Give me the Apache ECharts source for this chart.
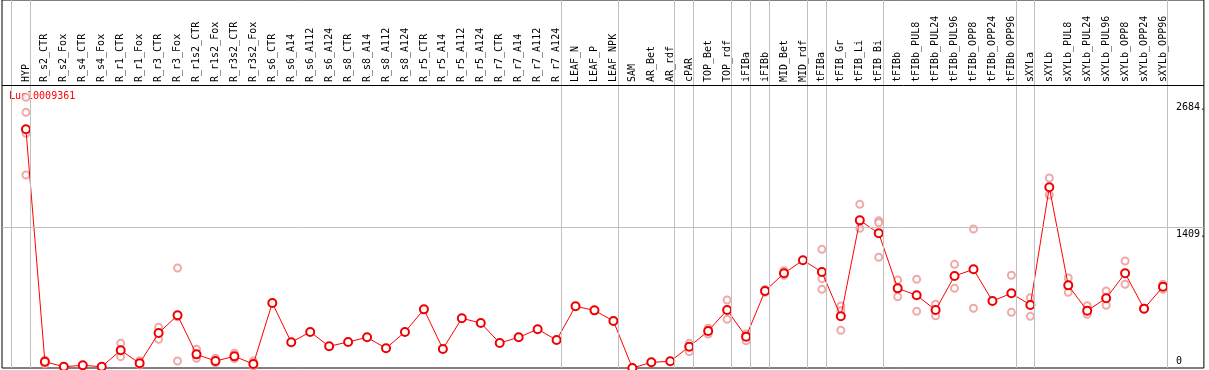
<!DOCTYPE html>
<html>
<head>
<meta charset="utf-8">
<script src="https://cdn.jsdelivr.net/npm/echarts@6/dist/echarts.min.js"></script>
<style>
html,body{margin:0;padding:0;background:#fff}
#chart{width:1209px;height:370px}
</style>
</head>
<body>
<div id="chart"></div>
<script>
let categories = ["HYP","R_s2_CTR","R_s2_Fox","R_s4_CTR","R_s4_Fox","R_r1_CTR","R_r1_Fox","R_r3_CTR","R_r3_Fox",
	"R_r1s2_CTR","R_r1s2_Fox","R_r3s2_CTR","R_r3s2_Fox","R_s6_CTR","R_s6_A14","R_s6_A112","R_s6_A124",
	"R_s8_CTR","R_s8_A14","R_s8_A112","R_s8_A124","R_r5_CTR","R_r5_A14","R_r5_A112","R_r5_A124",
	"R_r7_CTR","R_r7_A14","R_r7_A112","R_r7_A124","LEAF_N","LEAF_P","LEAF_NPK","SAM","AR_Bet","AR_rdf",
	"cPAR","TOP_Bet","TOP_rdf","iFIBa","iFIBb","MID_Bet","MID_rdf","tFIBa","tFIB_Gr","tFIB_Li","tFIB_Bi",
	"tFIBb","tFIBb_PUL8","tFIBb_PUL24","tFIBb_PUL96","tFIBb_OPP8","tFIBb_OPP24","tFIBb_OPP96",
	"sXYLa","sXYLb","sXYLb_PUL8","sXYLb_PUL24","sXYLb_PUL96","sXYLb_OPP8","sXYLb_OPP24","sXYLb_OPP96"];

// mean expression per sample
let meanValues = [2397,63,13,27,13,178,47,351,529,137,70,117,40,653,258,362,218,
	261,308,198,362,589,191,499,452,251,308,389,281,620,579,472,0,57,67,
	214,372,582,315,773,951,1082,964,519,1483,1353,
	800,730,582,924,991,673,750,633,1815,830,576,700,951,596,817];

// single replicates: [sample index, value]
let replicates = [
	[0,2719],[0,2568],[0,2357],[0,1938],[1,80],[1,40],[5,248],[5,114],[6,74],[6,30],
	[7,409],[7,288],[8,1004],[8,70],[8,513],[9,188],[9,97],[10,97],[10,53],[11,148],[11,94],
	[12,70],[12,20],[35,248],[35,164],[36,399],[36,341],[37,683],[37,489],[38,341],[38,274],
	[39,790],[39,760],[40,977],[40,930],[42,1192],[42,897],[42,790],[43,623],[43,576],[43,379],
	[44,1644],[44,1403],[45,1479],[45,1459],[45,1112],[46,884],[46,716],[47,891],[47,569],
	[48,640],[48,525],[49,1041],[49,800],[50,1396],[50,600],[52,931],[52,559],[53,706],[53,519],
	[54,1908],[54,1737],[55,904],[55,760],[56,626],[56,539],[57,773],[57,630],[58,1075],[58,841],
	[59,600],[59,590],[60,841],[60,790]
];

// last sample of each group (gray separators)
let groupEnds = [-1,0,28,31,34,35,37,38,39,41,42,45,52,53,60];
let yLabelsTop = [1409,2684];
let yLabelsBottom = [0];

let chart = echarts.init(document.getElementById("chart"));
let font = "DejaVu Sans Mono";
let idx = categories.map((c,i)=>i);
let yMax = 3696;
let headerLine = yMax*(368-85)/368; // value at the header separator

let opt = {
	animation:false,
	backgroundColor:"#fff",
	title:{
		text:"Lus10009361",
		left:9,
		top:91,
		padding:0,
		z:0,
		textStyle:{color:"#ff0000",fontSize:10,fontWeight:"normal",fontFamily:font}
	},
	grid:{
		left:2,right:2,top:0,bottom:2,
		show:true,
		borderColor:"#000",
		borderWidth:1,
		backgroundColor:"#fff"
	},
	xAxis:{
		type:"value",
		position:"top",
		offset:-85,
		min:-24/19,
		max:-24/19+1205/19,
		splitLine:{show:false},
		axisTick:{show:false},
		axisLine:{show:false},
		axisLabel:{
			customValues:idx,
			rotate:90,
			margin:3,
			color:"#000",
			fontSize:10,
			fontFamily:font,
			formatter:v=>categories[Math.round(v)] || ""
		}
	},
	yAxis:[
		{
			type:"value",
			position:"right",
			min:0,max:yMax,
			splitLine:{show:false},
			axisTick:{show:false},
			axisLine:{show:false},
			axisLabel:{
				customValues:yLabelsTop,
				inside:true,
				margin:28,
				align:"left",
				verticalAlign:"top",
				padding:[2,0,0,0],
				color:"#000",
				fontSize:10,
				fontFamily:font,
				formatter:v=>v+"."
			}
		},
		{
			type:"value",
			position:"right",
			min:0,max:yMax,
			splitLine:{show:false},
			axisTick:{show:false},
			axisLine:{show:false},
			axisLabel:{
				customValues:yLabelsBottom,
				inside:true,
				margin:28,
				align:"left",
				verticalAlign:"bottom",
				padding:[0,0,2,0],
				color:"#000",
				fontSize:10,
				fontFamily:font,
				formatter:v=>String(v)
			}
		}
	],
	series:[
		{
			type:"scatter",
			z:1,
			symbol:"emptyCircle",
			symbolSize:7,
			itemStyle:{color:"#ec9494",borderWidth:1.2},
			data:replicates,
			markLine:{
				silent:true,
				symbol:["none","none"],
				label:{show:false},
				lineStyle:{color:"#c0c0c0",width:1,type:"solid"},
				data:groupEnds.map(g=>({xAxis:g+0.23})).concat([
					{yAxis:1409},
					{yAxis:headerLine,lineStyle:{color:"#000",width:1,type:"solid"}}
				])
			}
		},
		{
			type:"line",
			z:3,
			symbol:"emptyCircle",
			symbolSize:8,
			itemStyle:{color:"#ee0000",borderWidth:1.2},
			lineStyle:{color:"#ff0000",width:1},
			data:meanValues.map((v,i)=>[i,v])
		}
	]
};
chart.setOption(opt);
</script>
</body>
</html>
